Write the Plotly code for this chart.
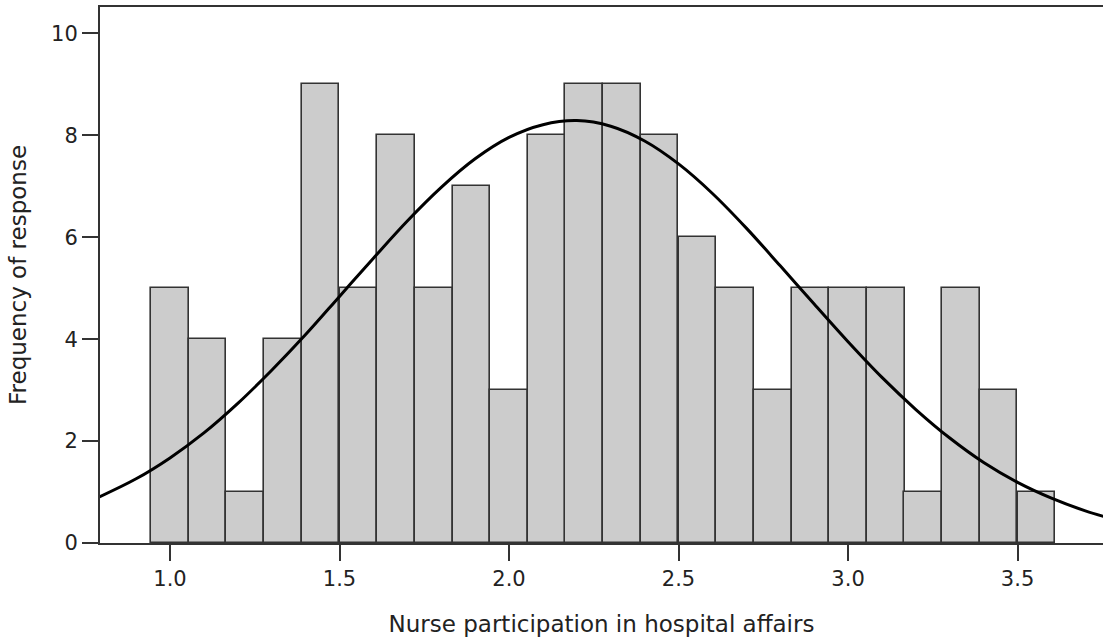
import plotly.graph_objects as go

# Histogram bins (centers) and counts
bin_centers = [1.000, 1.111, 1.222, 1.333, 1.444, 1.556, 1.667, 1.778,
               1.889, 2.000, 2.111, 2.222, 2.333, 2.444, 2.556, 2.667,
               2.778, 2.889, 3.000, 3.111, 3.222, 3.333, 3.444, 3.556]
counts = [5, 4, 1, 4, 9, 5, 8, 5, 7, 3, 8, 9, 9, 8, 6, 5, 3, 5, 5, 5, 1, 5, 3, 1]
bin_width = 0.1111

# Normal curve, values
curve_x = [0.79, 0.9, 1.0, 1.1, 1.2, 1.3, 1.4, 1.5, 1.6, 1.7, 1.8, 1.9,
           2.0, 2.1, 2.2, 2.3, 2.4, 2.5, 2.6, 2.7, 2.8, 2.9, 3.0, 3.1,
           3.2, 3.3, 3.4, 3.5, 3.6, 3.7, 3.76]
curve_y = [0.90, 1.26, 1.67, 2.16, 2.74, 3.39, 4.09, 4.84, 5.59, 6.32, 6.98, 7.54,
           7.96, 8.21, 8.29, 8.18, 7.89, 7.44, 6.86, 6.18, 5.44, 4.69, 3.95, 3.25,
           2.62, 2.06, 1.58, 1.19, 0.88, 0.63, 0.51]

x_ticks = [1.0, 1.5, 2.0, 2.5, 3.0, 3.5]
x_tick_labels = ["1.0", "1.5", "2.0", "2.5", "3.0", "3.5"]
y_ticks = [0, 2, 4, 6, 8, 10]

FONT = "DejaVu Sans"

fig = go.Figure()
fig.add_trace(go.Bar(
    x=bin_centers, y=counts, width=bin_width,
    marker=dict(color="#cccccc", line=dict(color="#333333", width=1.6)),
    showlegend=False, hoverinfo="x+y",
))
fig.add_trace(go.Scatter(
    x=curve_x, y=curve_y, mode="lines",
    line=dict(color="#000000", width=3, shape="spline", smoothing=1.0),
    showlegend=False,
))

fig.update_layout(
    width=1103, height=643,
    margin=dict(l=100, r=0, t=7, b=100),
    paper_bgcolor="white", plot_bgcolor="white",
    font=dict(family=FONT, size=21, color="#222222"),
    bargap=0,
    xaxis=dict(
        range=[0.7935, 3.752],
        tickvals=x_ticks, ticktext=x_tick_labels,
        ticks="outside", ticklen=16, tickwidth=2, tickcolor="#333333",
        showline=True, linecolor="#333333", linewidth=2, mirror=True,
        showgrid=False, zeroline=False,
        tickfont=dict(size=21),
        title=dict(text="Nurse participation in hospital affairs",
                   font=dict(size=23), standoff=26),
    ),
    yaxis=dict(
        range=[0, 10.52],
        tickvals=y_ticks,
        ticks="outside", ticklen=16, tickwidth=2, tickcolor="#333333",
        showline=True, linecolor="#333333", linewidth=2,
        showgrid=False, zeroline=False,
        tickfont=dict(size=21),
        title=dict(text="Frequency of response", font=dict(size=23), standoff=18),
    ),
)

fig.write_html("out.html")
